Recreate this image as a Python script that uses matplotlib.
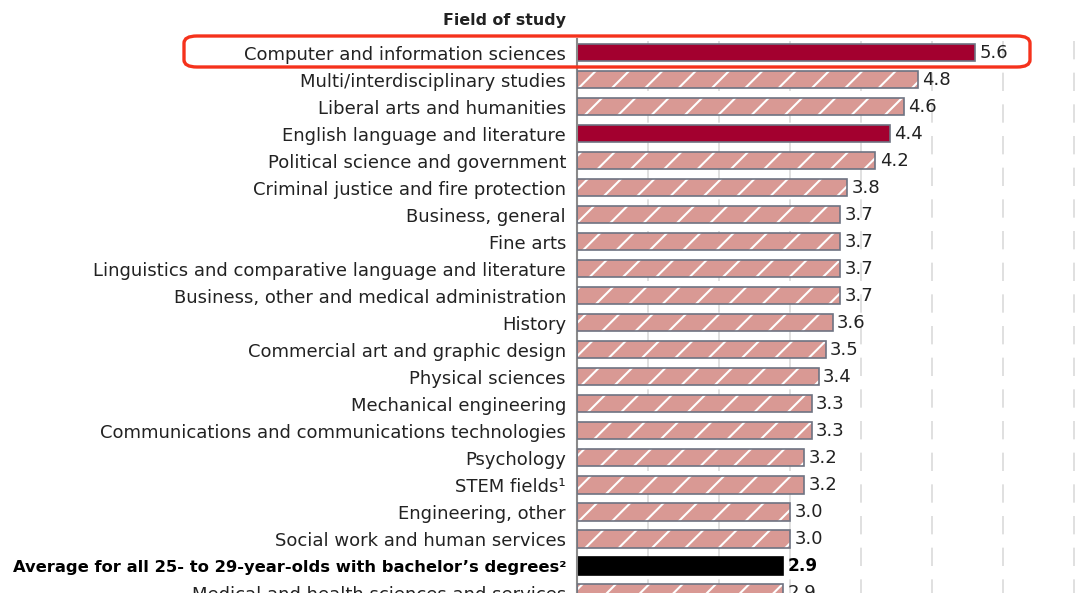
import matplotlib.pyplot as plt
from matplotlib.patches import FancyBboxPatch

# data
fields = [
    "Computer and information sciences",
    "Multi/interdisciplinary studies",
    "Liberal arts and humanities",
    "English language and literature",
    "Political science and government",
    "Criminal justice and fire protection",
    "Business, general",
    "Fine arts",
    "Linguistics and comparative language and literature",
    "Business, other and medical administration",
    "History",
    "Commercial art and graphic design",
    "Physical sciences",
    "Mechanical engineering",
    "Communications and communications technologies",
    "Psychology",
    "STEM fields\u00b9",
    "Engineering, other",
    "Social work and human services",
    "Average for all 25- to 29-year-olds with bachelor\u2019s degrees\u00b2",
    "Medical and health sciences and services",
]
rates = [5.6, 4.8, 4.6, 4.4, 4.2, 3.8, 3.7, 3.7, 3.7, 3.7,
         3.6, 3.5, 3.4, 3.3, 3.3, 3.2, 3.2, 3.0, 3.0, 2.9, 2.9]
# bar style per row: 'solid', 'hatch' or 'avg'
kinds = ['solid', 'hatch', 'hatch', 'solid'] + ['hatch'] * 15 + ['avg', 'hatch']

crimson = '#a3002f'
pink = '#d99994'
edge = '#6e7382'
font_size = 13

plt.rcParams['font.family'] = ['DejaVu Sans']
plt.rcParams['hatch.linewidth'] = 1.5

fig = plt.figure(figsize=(10.8, 5.93), dpi=100)
W, H = 1080, 593
ax = fig.add_axes([577 / W, 0, (W - 577) / W, 1])

ypos = list(range(len(fields)))
px_unit = 71.07
ax.set_xlim(0, (W - 577) / px_unit)
row_h = 27.37
top = 53.7
ax.set_ylim((H - top) / row_h, -top / row_h)

# gridlines
for g in range(1, 8):
    ax.vlines(g, -0.45, len(fields), colors='#dadada', linewidth=1.2,
              linestyles=(0, (11, 8)), zorder=0)

bar_h = 0.63
for y, v, k in zip(ypos, rates, kinds):
    if k == 'solid':
        ax.barh(y, v, height=bar_h, color=crimson, edgecolor=edge, linewidth=1.2, zorder=2)
    elif k == 'avg':
        ax.barh(y, v, height=bar_h, color='black', edgecolor='black', linewidth=1.2, zorder=2)
    else:
        ax.barh(y, v, height=bar_h, color=pink, edgecolor='white', linewidth=0,
                hatch='/', zorder=2)
        ax.barh(y, v, height=bar_h, color='none', edgecolor=edge, linewidth=1.2, zorder=3)
    ax.text(v + 0.06, y, f"{v:.1f}", va='center', ha='left',
            fontsize=12.2 if k == 'avg' else font_size,
            color='black' if k == 'avg' else '#222222',
            fontweight='bold' if k == 'avg' else 'normal', zorder=4)

ax.set_yticks(ypos)
ax.set_yticklabels(fields, fontsize=font_size, color='#222222')
for lab, k in zip(ax.get_yticklabels(), kinds):
    if k == 'avg':
        lab.set_fontweight('bold')
        lab.set_fontsize(11.8)
        lab.set_color('black')
ax.tick_params(axis='y', length=0, pad=8)
ax.set_xticks([])
for s in ['top', 'right', 'bottom']:
    ax.spines[s].set_visible(False)
ax.spines['left'].set_color('#8a8a8a')
ax.spines['left'].set_linewidth(1.5)
ax.spines['left'].set_bounds(-0.5, len(fields))

fig.text(566 / W, 1 - 21 / H, "Field of study", ha='right', va='center',
         fontsize=11.4, fontweight='bold', color='#222222')

# highlight box around the first row
box = FancyBboxPatch((184 / W, 1 - 67 / H), (1030 - 184) / W, 31 / H,
                     boxstyle='round,pad=0,rounding_size=0.012',
                     transform=fig.transFigure, facecolor='none',
                     edgecolor='#f5321c', linewidth=2.4, zorder=10)
fig.patches.append(box)

fig.savefig('out.png', dpi=100)
